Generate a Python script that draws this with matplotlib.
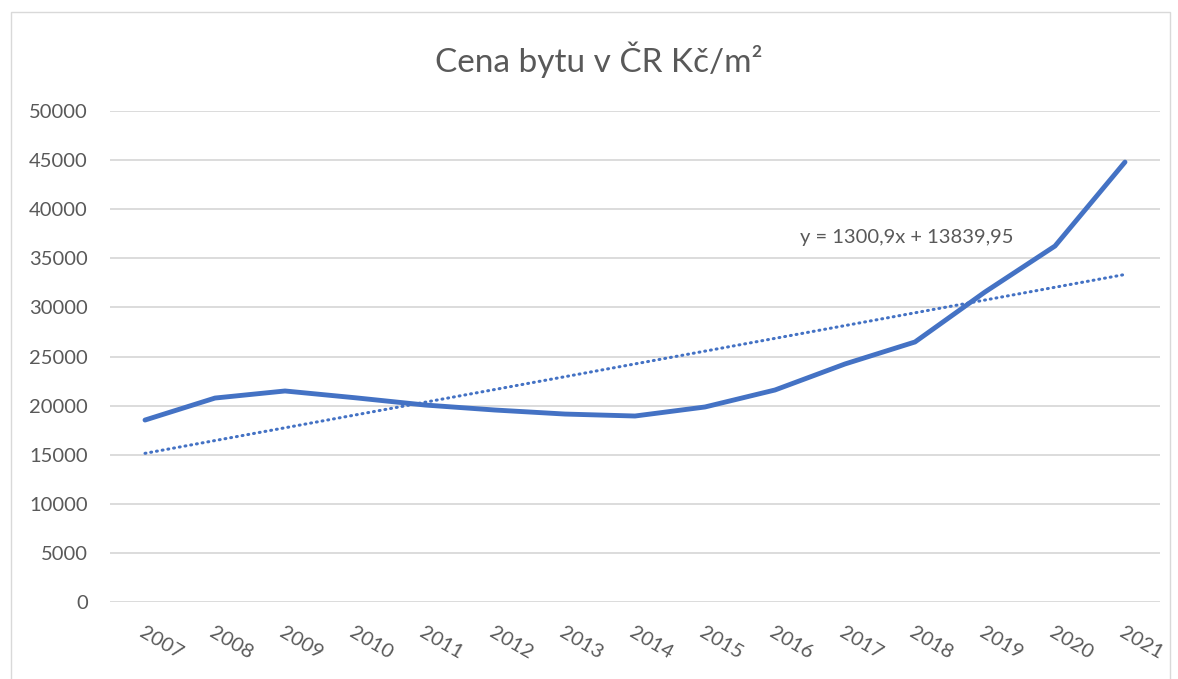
import numpy as np
import matplotlib.pyplot as plt
import matplotlib.transforms as mtransforms
from matplotlib.patches import Rectangle

plt.rcParams['font.family'] = ['Lato', 'DejaVu Sans']

years = ['2007', '2008', '2009', '2010', '2011', '2012', '2013', '2014',
         '2015', '2016', '2017', '2018', '2019', '2020', '2021']
prices = [18530, 20770, 21490, 20800, 20060, 19550, 19140, 18940,
          19860, 21590, 24240, 26480, 31570, 36250, 44800]
slope = 1300.9
intercept = 13839.95
eq_label = 'y = 1300,9x + 13839,95'

blue = '#4472C4'
grey = '#595959'

fig = plt.figure(figsize=(11.78, 6.79), dpi=100)
ax = fig.add_axes([0.0934, 0.1134, 0.8913, 0.7231])

x = np.arange(len(years))
ax.plot(x, prices, color=blue, linewidth=3.5, solid_capstyle='round', solid_joinstyle='round', zorder=3)
trend = slope * (x + 1) + intercept
ax.plot(x, trend, color=blue, linewidth=2.2, linestyle=(0, (0.3, 1.6)), dash_capstyle='round', zorder=3)
ax.text(9.36, 37170, eq_label, fontsize=14.5, color=grey, va='center', ha='left')

ax.set_xlim(-0.5, len(years) - 0.5)
ax.set_ylim(0, 50000)
ax.set_yticks(np.arange(0, 50001, 5000))
ax.set_xticks(x)
ax.set_xticklabels(years, rotation=-30, ha='left', va='top', rotation_mode='anchor')
shift = mtransforms.ScaledTranslation(6 / 100, 0, fig.dpi_scale_trans)
for lbl in ax.get_xticklabels():
    lbl.set_transform(lbl.get_transform() + shift)
ax.grid(axis='y', color='#D9D9D9', linewidth=1.3)
ax.set_axisbelow(True)
for s in ax.spines.values():
    s.set_visible(False)
ax.tick_params(axis='both', length=0, labelsize=14.5, colors=grey)
ax.tick_params(axis='y', pad=16)
ax.tick_params(axis='x', pad=16)

# title centred on the whole chart area, not the plot area
fig.text(0.508, 0.912, 'Cena bytu v ČR Kč/m²', fontsize=24, color=grey, ha='center', va='center')

fig.patches.append(Rectangle((0.009, -0.01), 0.984, 0.993, transform=fig.transFigure,
                             fill=False, edgecolor='#D9D9D9', linewidth=1))

fig.savefig('out.png', dpi=100)
